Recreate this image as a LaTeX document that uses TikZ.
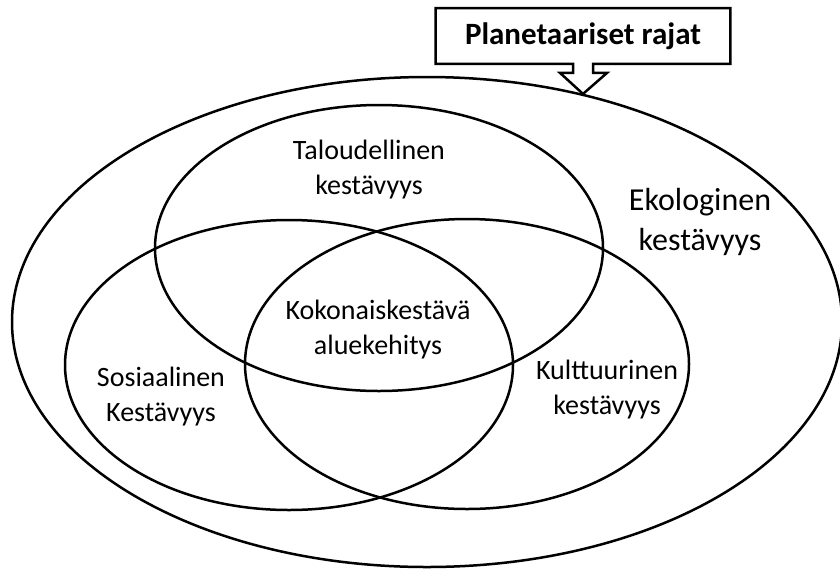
\documentclass[tikz,border=0pt]{standalone}
\usepackage{fontspec}
\setmainfont{Carlito}
\usetikzlibrary{calc,shapes.geometric}
\tikzset{
  kaari/.style={draw,ellipse,line width=1.25pt,inner sep=0pt},
  teksti/.style={align=center,font=\fontsize{14}{17.5}\selectfont},
  otsikko/.style={align=center,font=\fontsize{16}{20}\selectfont},
  laatikko/.style={inner sep=0pt,minimum width=147pt,minimum height=27.5pt,
                   font=\bfseries\fontsize{15.5}{18}\selectfont}
}

\begin{document}
\begin{tikzpicture}[x=0.5pt,y=-0.5pt]
  \useasboundingbox (0,0) rectangle (840,569);
  % ympyrat
  \node[kaari,minimum width=415pt,minimum height=245pt] (eko)  at (427,322) {};
  \node[kaari,minimum width=224pt,minimum height=143pt] (tal)  at (379,248) {};
  \node[kaari,minimum width=224pt,minimum height=145pt] (sos)  at (289,365) {};
  \node[kaari,minimum width=222pt,minimum height=145pt] (kult) at (467,364) {};
  % tekstit
  \node[teksti] (taltxt)  at (369,170) {Taloudellinen\\kestävyys};
  \node[otsikko] (ekotxt) at (700,222) {Ekologinen\\kestävyys};
  \node[teksti] (kokotxt) at (378,330) {Kokonaiskestävä\\aluekehitys};
  \node[teksti] (sostxt)  at (161,397) {Sosiaalinen\\Kestävyys};
  \node[teksti] (kulttxt) at (607,390) {Kulttuurinen\\kestävyys};
  % laatikko ja nuoli
  \node[laatikko] (rajat) at (583,36) {Planetaariset rajat};
  \draw[line width=1.25pt,line join=miter]
    ($(rajat.south)+(-10,0)$) -- (rajat.south west) -- (rajat.north west)
    -- (rajat.north east) -- (rajat.south east) -- ($(rajat.south)+(10,0)$)
    -- ++(0,9) -- ++(14,0) -- ($(rajat.south)+(0,30)$)
    -- ($(rajat.south)+(-23,9)$) -- ++(13,0) -- cycle;
\end{tikzpicture}
\end{document}
